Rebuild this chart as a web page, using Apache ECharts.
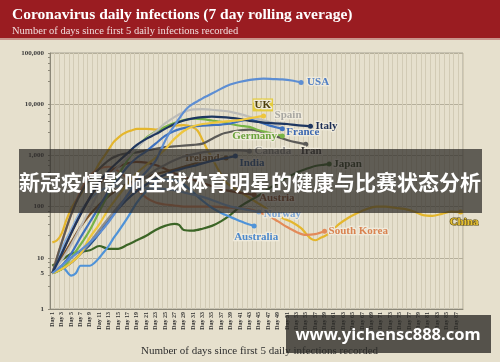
<!DOCTYPE html>
<html><head><meta charset="utf-8">
<script src="https://cdn.jsdelivr.net/npm/echarts@6/dist/echarts.min.js"></script>
<style>html,body{margin:0;padding:0;background:#e6e0cd;}#c{width:500px;height:362px;}</style>
</head><body><div id="c"></div>
<script>
// ---- DATA (day, 7-day average daily infections) ----
const days = []; for (let d = 1; d <= 88; d++) days.push('Day ' + d);
const yTickExtra = [5];
const usa = [[1,5],[3,7],[5,10],[7,14],[9,20],[11,30],[13,50],[15,90],[17,170],[19,300],[21,480],[23,780],[24,1200],[25,1900],[26,2800],[27,3800],[28,5200],[29,7000],[30,8800],[31,10200],[32,11500],[33,13000],[34,14500],[36,18000],[38,22500],[40,26000],[42,28500],[44,30500],[46,31500],[48,31000],[50,30500],[52,29000],[54,26500]];
const uk = [[1,5],[3,6],[5,8],[7,12],[9,25],[11,45],[13,90],[15,160],[17,280],[19,450],[21,650],[23,900],[25,1300],[27,2100],[29,3000],[31,3700],[33,4100],[35,4300],[37,4500],[39,4700],[41,4900],[43,5300],[45,5700],[46,5900]];
const spain = [[1,5],[3,9],[5,18],[7,40],[9,90],[11,200],[13,380],[15,600],[17,900],[19,1400],[21,2100],[23,2900],[25,4200],[27,5600],[29,7000],[31,7900],[33,8000],[35,7800],[37,7500],[39,7100],[41,6400],[43,5700],[45,5100],[47,4600],[49,4100]];
const italy = [[1,5],[3,12],[5,30],[7,70],[9,150],[11,300],[13,500],[15,750],[17,1100],[19,1600],[21,2100],[23,2600],[25,3300],[27,4100],[29,4800],[31,5300],[33,5600],[35,5700],[37,5600],[39,5400],[41,5100],[43,4700],[45,4500],[47,4300],[49,4200],[51,4100],[53,3900],[56,3700]];
const france = [[1,5],[3,7],[5,12],[7,25],[9,50],[11,100],[13,200],[15,350],[17,600],[19,900],[21,1200],[23,1700],[25,2400],[27,3000],[29,3400],[31,3700],[33,3800],[35,3900],[37,4000],[39,4200],[41,4700],[43,5000],[45,4500],[47,3900],[50,3300]];
const germany = [[1,5],[3,6],[5,10],[7,18],[9,35],[11,80],[13,180],[15,400],[17,800],[19,1400],[21,2200],[23,2900],[25,3600],[27,4300],[29,4900],[31,5200],[33,5100],[35,4800],[37,4500],[39,4100],[41,3800],[43,3600],[45,3100],[47,2800],[50,2400]];
const iran = [[1,5],[3,20],[5,70],[7,180],[9,350],[11,550],[13,800],[15,1000],[17,1100],[19,1150],[21,1250],[23,1350],[25,1450],[27,1500],[29,1550],[31,1600],[33,1700],[35,2100],[37,2600],[39,2900],[41,3100],[43,3200],[45,3000],[47,2600],[49,2300],[51,2000],[53,1800],[55,1660]];
const canada = [[1,5],[3,6],[5,8],[7,12],[9,20],[11,35],[13,60],[15,100],[17,160],[19,250],[21,380],[23,520],[25,650],[27,800],[29,950],[31,1050],[33,1150],[35,1200],[37,1250],[39,1250],[41,1250],[43,1200]];
const india = [[1,5],[3,6],[5,8],[7,12],[9,18],[11,30],[13,55],[15,90],[17,140],[19,200],[21,270],[23,350],[25,420],[27,500],[29,560],[31,620],[33,700],[35,780],[37,850],[40,970]];
const ireland = [[1,5],[3,10],[5,20],[7,40],[9,70],[11,110],[13,160],[15,220],[17,280],[19,330],[21,380],[23,430],[25,480],[27,530],[29,600],[31,680],[33,750],[35,820],[38,890]];
const japan = [[1,7],[2,8],[3,9],[5,12],[7,13],[9,14],[11,17],[13,15],[15,15],[17,18],[19,22],[21,27],[23,35],[25,42],[27,46],[28,44],[29,35],[31,34],[33,37],[35,42],[37,52],[39,70],[41,100],[43,130],[45,165],[47,220],[49,290],[51,370],[53,460],[55,540],[57,620],[59,660],[60,680]];
const austria = [[1,5],[3,12],[5,30],[7,70],[9,150],[11,280],[13,450],[15,600],[17,700],[19,750],[21,720],[23,650],[25,550],[27,450],[29,380],[31,330],[33,290],[35,250],[37,220],[39,200],[41,185],[44,170]];
const norway = [[1,5],[3,15],[5,35],[7,80],[9,140],[11,200],[13,240],[15,250],[17,240],[19,235],[21,230],[23,225],[25,220],[27,210],[29,190],[31,170],[33,155],[35,135],[37,115],[39,100],[41,92],[43,85],[45,78]];
const southKorea = [[1,5],[3,20],[5,70],[7,200],[9,400],[11,550],[13,600],[15,500],[17,350],[19,220],[21,150],[23,120],[25,110],[27,105],[29,100],[31,100],[33,100],[35,100],[37,98],[39,95],[41,92],[43,88],[45,78],[47,66],[49,52],[51,40],[53,32],[55,28],[57,29],[59,33]];
const australia = [[1,5],[2,6],[3,7],[4,5.5],[5,4.5],[6,5],[7,7],[8,7],[9,7],[10,8],[11,10],[12,13],[13,17],[14,24],[15,32],[17,60],[19,120],[21,200],[23,290],[25,340],[27,330],[29,270],[31,190],[33,130],[35,95],[37,75],[40,57],[42,48],[44,42]];
const china = [[1,20],[2,22],[3,30],[4,55],[5,90],[6,130],[7,170],[8,250],[9,350],[10,480],[11,700],[12,950],[13,1300],[14,1800],[15,2200],[16,2600],[17,2900],[18,3100],[19,3300],[21,3300],[23,3200],[25,3500],[27,3800],[29,3900],[31,3500],[32,3000],[33,2000],[34,1300],[35,900],[36,600],[37,420],[38,300],[40,220],[42,170],[44,130],[46,100],[48,75],[50,60],[52,50],[54,38],[55,30],[56,24],[57,22],[58,24],[60,30],[62,45],[64,60],[66,75],[68,90],[70,100],[72,100],[74,95],[76,90],[78,80],[80,68],[82,66],[84,72],[86,80],[88,78]];

const countries = [
  {name:'China', data:china, color:'#e4b62d', lc:'#e8c232', off:[-19,10], border:'#5a4a10', bw:1.2},
  {name:'Japan', data:japan, color:'#3c6526', lc:'#2e3a1f', off:[-4,0]},
  {name:'South Korea', data:southKorea, color:'#e38a58', lc:'#d9824f', off:[-4,0]},
  {name:'Australia', data:australia, color:'#4f93d8', lc:'#4b88cc', off:[-28,11]},
  {name:'Norway', data:norway, color:'#87afdd', lc:'#7ea6d6', off:[-3,2]},
  {name:'Austria', data:austria, color:'#8e4b26', lc:'#8a4a28', off:[-3,3]},
  {name:'Ireland', data:ireland, color:'#7d5327', lc:'#7a5428', off:[-49,0]},
  {name:'India', data:india, color:'#24508f', lc:'#24508f', off:[-4,7]},
  {name:'Canada', data:canada, color:'#8e8d8a', lc:'#8c8b87', off:[-3,0]},
  {name:'Iran', data:iran, color:'#5b5a57', lc:'#3d3c39', off:[-13,7]},
  {name:'Germany', data:germany, color:'#78b446', lc:'#6aa23c', off:[-58,0]},
  {name:'France', data:france, color:'#3f72bf', lc:'#3a66b0', off:[-4,3]},
  {name:'Spain', data:spain, color:'#bdbcb8', lc:'#a9a8a3', off:[-11,-9]},
  {name:'Italy', data:italy, color:'#1d3660', lc:'#1d2f55', off:[-3,0]},
  {name:'UK', data:uk, color:'#eec63d', lc:'#4d3f0c', off:[-19,-11], bg:'#e4cc3f'},
  {name:'USA', data:usa, color:'#5d8ed3', lc:'#4f7ec4', off:[-2,0]}
];

const fmt = v => String(v).replace(/\B(?=(\d{3})+(?!\d))/g, ',');
const series = countries.map((c, i) => {
  const n = c.data.length;
  const s = {
    name: c.name, type: 'line', smooth: 0.3,
    data: c.data.map(([d, v]) => ['Day ' + d, v]),
    symbol: 'circle', showAllSymbol: true,
    symbolSize: (v, p) => p.dataIndex === n - 1 ? 5 : 0,
    itemStyle: {color: c.color},
    lineStyle: {width: 2.2, color: c.color},
    endLabel: {
      show: true, formatter: c.name, offset: c.off,
      fontFamily: 'Liberation Serif', fontWeight: 'bold', fontSize: 11,
      color: c.lc, textBorderColor: c.border || '#efeadb', textBorderWidth: c.bw || 2.5,
      backgroundColor: c.bg || 'transparent', padding: c.bg ? [1,2] : 0
    },
    emphasis: {disabled: true}, z: 2 + i
  };
  if (i === 0) {
    s.markLine = {
      silent: true, symbol: 'none', animation: false,
      data: yTickExtra.map(v => ({yAxis: v})),
      lineStyle: {color: 'rgba(0,0,0,0)', width: 0.01},
      label: {show: true, position: 'start', formatter: p => String(p.value), fontFamily: 'Liberation Serif',
        fontWeight: 'bold', fontSize: 7, color: '#3a3a3a', distance: 6}
    };
  }
  return s;
});

const chart = echarts.init(document.getElementById('c'), null, {renderer: 'canvas'});
chart.setOption({
  animation: false,
  backgroundColor: '#e6e0cd',
  title: {
    text: 'Coronavirus daily infections (7 day rolling average)',
    subtext: 'Number of days since first 5 daily infections recorded',
    left: 7, top: 2, itemGap: 3,
    textStyle: {color: '#fff', fontFamily: 'Liberation Serif', fontWeight: 'bold', fontSize: 15.5},
    subtextStyle: {color: '#f1dede', fontFamily: 'Liberation Serif', fontSize: 10.5}
  },
  graphic: [
    {type: 'rect', z: -10, shape: {x: 0, y: 0, width: 500, height: 38}, style: {fill: '#9a1c21'}},
    {type: 'rect', z: -10, shape: {x: 0, y: 38, width: 500, height: 2}, style: {fill: '#c9948c'}},
    {type: 'rect', z: 100, shape: {x: 19, y: 149, width: 463, height: 64}, style: {fill: 'rgba(44,42,39,0.72)'}},
    {type: 'text', z: 101, style: {text: '新冠疫情影响全球体育明星的健康与比赛状态分析', x: 250, y: 182,
      align: 'center', verticalAlign: 'middle', fill: '#ffffff',
      font: 'bold 21px "Noto Sans CJK SC"'}},
    {type: 'rect', z: 100, shape: {x: 286, y: 315, width: 205, height: 38}, style: {fill: 'rgba(44,42,39,0.78)'}},
    {type: 'text', z: 101, style: {text: 'www.yichensc888.com', x: 388, y: 335,
      align: 'center', verticalAlign: 'middle', fill: '#ffffff',
      font: 'bold 16.5px "Noto Sans"'}}
  ],
  grid: {left: 50, right: 37, top: 53, bottom: 52, show: true, borderColor: '#a9a494', borderWidth: 1, backgroundColor: 'transparent'},
  xAxis: {
    type: 'category', data: days, boundaryGap: true,
    name: 'Number of days since first 5 daily infections recorded',
    nameLocation: 'middle', nameGap: 37,
    nameTextStyle: {fontFamily: 'Liberation Serif', fontSize: 11, color: '#2e2e2e', padding: [0, 0, 0, 6]},
    axisLine: {lineStyle: {color: '#8c8878'}},
    axisTick: {show: false},
    axisLabel: {interval: 1, rotate: 90, fontSize: 6, fontWeight: 'bold', fontFamily: 'Liberation Serif', color: '#333', margin: 3},
    splitLine: {show: true, interval: 0, lineStyle: {color: '#d2cbb5', width: 1}}
  },
  yAxis: {
    type: 'log', logBase: 10, min: 1, max: 100000,
    axisLine: {show: true, lineStyle: {color: '#8c8878'}},
    axisTick: {show: true, length: 2, lineStyle: {color: '#8c8878'}},
    minorTick: {show: true, splitNumber: 5, length: 2, lineStyle: {color: '#8c8878'}},
    axisLabel: {formatter: v => fmt(v), fontSize: 7, fontWeight: 'bold', fontFamily: 'Liberation Serif', color: '#3a3a3a', margin: 6},
    splitLine: {show: true, lineStyle: {color: '#b5af9b', width: 1}}
  },
  series: series
});
</script></body></html>
